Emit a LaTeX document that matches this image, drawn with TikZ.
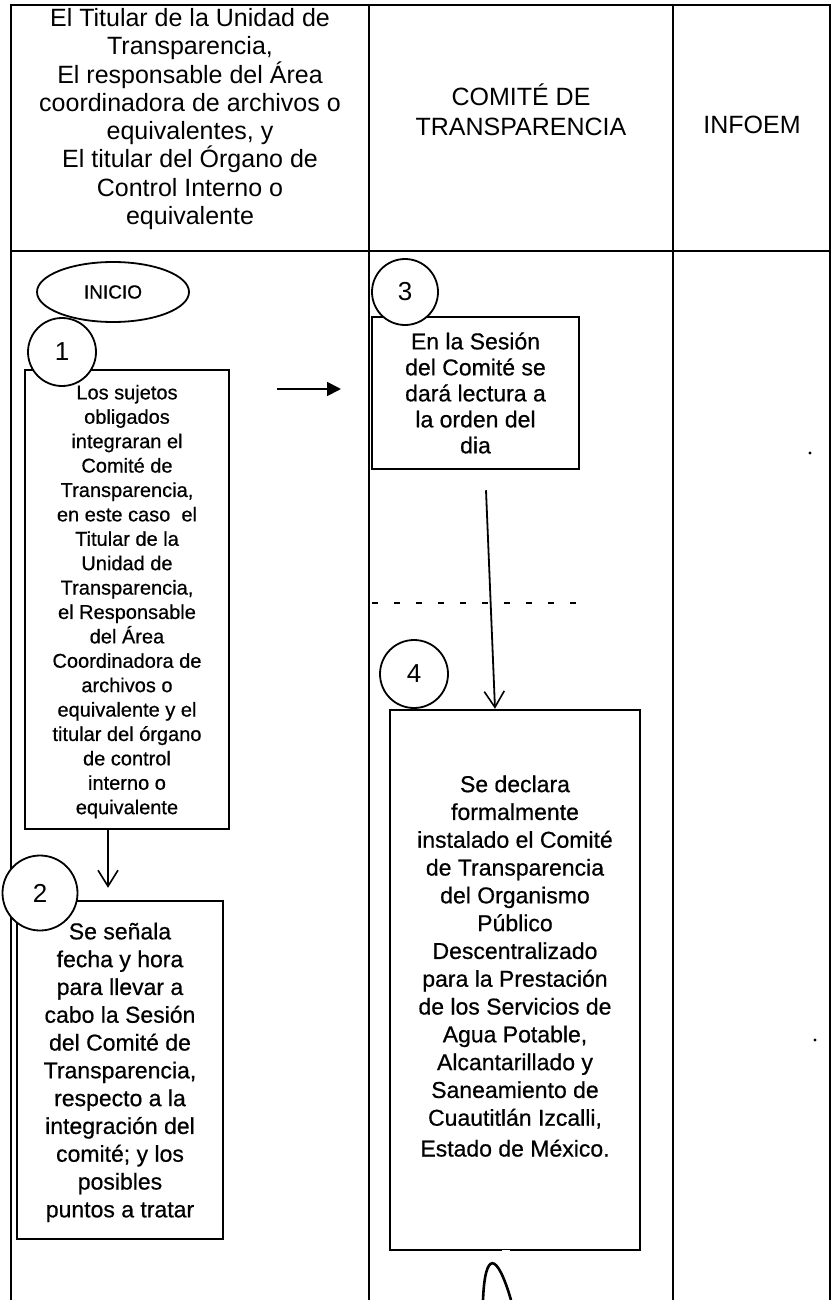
\documentclass[tikz,border=0pt]{standalone}
\usepackage{fontspec}
\setmainfont{Liberation Sans}
\newfontfamily\boxfont[FakeBold=0.6]{Liberation Sans}
\usetikzlibrary{arrows.meta,shapes.geometric}
\begin{document}
\begin{tikzpicture}[x=1pt,y=-1pt,
  frame/.style={line width=1.6pt},
  stepbox/.style={draw, line width=2.5pt, inner sep=0pt, align=center, fill=white},
  numcirc/.style={draw, circle, fill=white, line width=1.8pt, inner sep=0pt, font=\fontsize{26}{26}\selectfont},
  conn/.style={line width=1.8pt},
  vtip/.style={-{Straight Barb[length=16pt,width=20pt,line width=1.6pt]}},
  ftip/.style={-{Triangle[length=14pt,width=14pt]}},
  head/.style={align=center, font=\fontsize{25}{28.3}\selectfont},
]
\useasboundingbox (0,0) rectangle (832,1300);
% table frame
\draw[frame] (11,1300) -- (11,5) -- (830,5) -- (830,1300);
\draw[frame] (11,251) -- (830,251);
\draw[frame] (369,5) -- (369,1300);
\draw[frame] (673,5) -- (673,1300);
% header texts
\node[head] (hA) at (190,119) {El Titular de la Unidad de\\Transparencia,\\El responsable del Área\\coordinadora de archivos o\\equivalentes, y\\El titular del Órgano de\\Control Interno o\\equivalente};
\node[head, font=\fontsize{25}{30}\selectfont] (hB) at (521,110) {COMITÉ DE\\TRANSPARENCIA};
\node[head] (hC) at (752,125) {INFOEM};
% start
\node[draw, ellipse, line width=1.8pt, minimum width=152pt, minimum height=60pt, font=\boxfont\fontsize{19}{19}\selectfont] (inicio) at (113,292) {INICIO};
% step 1
\node[stepbox, minimum width=204pt, minimum height=459pt, text depth=-10pt, font=\boxfont\fontsize{20}{24.4}\selectfont] (b1) at (127,599.5) {Los sujetos\\obligados\\integraran el\\Comité de\\Transparencia,\\en este caso\ \ el\\Titular de la\\Unidad de\\Transparencia,\\el Responsable\\del Área\\Coordinadora de\\archivos o\\equivalente y el\\titular del órgano\\de control\\interno o\\equivalente};
\node[numcirc, minimum size=68pt] (c1) at (62,352) {1};
% step 2
\node[stepbox, minimum width=206pt, minimum height=338pt, text depth=-9pt, font=\boxfont\fontsize{23}{27.8}\selectfont] (b2) at (120,1070) {Se señala\\fecha y hora\\para llevar a\\cabo la Sesión\\del Comité de\\Transparencia,\\respecto a la\\integración del\\comité; y los\\posibles\\puntos a tratar};
\node[numcirc, minimum size=75pt] (c2) at (40,893) {2};
% step 3
\node[stepbox, minimum width=207pt, minimum height=152pt, font=\boxfont\fontsize{23}{26}\selectfont] (b3) at (475.5,393) {En la Sesión\\del Comité se\\dará lectura a\\la orden del\\dia};
\node[numcirc, minimum size=66pt] (c3) at (405,292) {3};
% step 4
\node[stepbox, minimum width=250pt, minimum height=540pt, text depth=28pt, font=\boxfont\fontsize{23}{27.8}\selectfont] (b4) at (515,980) {Se declara\\formalmente\\instalado el Comité\\de Transparencia\\del Organismo\\Público\\Descentralizado\\para la Prestación\\de los Servicios de\\Agua Potable,\\Alcantarillado y\\Saneamiento de\\Cuautitlán Izcalli,\\[3pt]Estado de México.};
\node[numcirc, minimum size=68pt] (c4) at (414,674) {4};
\draw[white, line width=3.5pt] ([xshift=-13pt]b4.south) -- ([xshift=-5pt]b4.south);
% connectors
\draw[conn, vtip] ([xshift=-19pt]b1.south) -- ([xshift=-12pt,yshift=12pt]b2.north);
\draw[conn, vtip] ([xshift=10.5pt,yshift=-20pt]b3.south) -- ([xshift=-20pt]b4.north);
\coordinate (r1) at (277,389);
\coordinate (r2) at (341,389);
\draw[conn, ftip] (r1) -- (r2);
% dashed remnant
\coordinate (d1) at (372,603);
\coordinate (d2) at (582,603);
\draw[line width=1.3pt, dash pattern=on 6pt off 16pt] (d1) -- (d2);
% curve at bottom
\coordinate (k1) at (483,1300);
\coordinate (k2) at (511,1300);
\draw[line width=2.6pt] (k1) .. controls (485,1250) and (497,1252) .. (k2);
% specks
\fill (810,453) circle (1.6pt);
\fill (815,1040) circle (1.6pt);
\end{tikzpicture}
\end{document}
